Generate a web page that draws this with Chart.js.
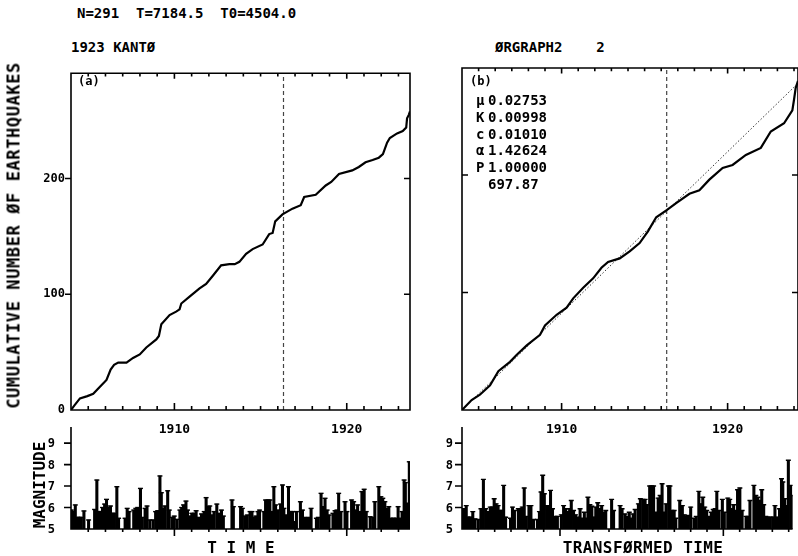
<!DOCTYPE html>
<html lang="en">
<head>
<meta charset="UTF-8">
<title>1923 KANTO</title>
<script src="https://cdn.jsdelivr.net/npm/chart.js"></script>
<style>
  body { margin: 0; background: #fff; }
  #fig { position: relative; width: 798px; height: 556px; overflow: hidden;
         font-family: "DejaVu Sans Mono", monospace; font-weight: bold; color: #000; }
  #fig canvas { position: absolute; }
  .txt { position: absolute; white-space: pre; line-height: 1; }
  .rot { position: absolute; white-space: pre; line-height: 1; text-align: center; transform: rotate(-90deg); }
</style>
</head>
<body>
<div id="fig">
  <canvas id="cumA" width="420" height="380" style="left:0;top:60px"></canvas>
  <canvas id="cumB" width="358" height="380" style="left:440px;top:60px"></canvas>
  <canvas id="magAChart" width="420" height="136" style="left:0;top:420px"></canvas>
  <canvas id="magBChart" width="358" height="136" style="left:440px;top:420px"></canvas>

  <div class="txt" style="left:77px;top:6px;font-size:14px">N=291  T=7184.5  T0=4504.0</div>
  <div class="txt" style="left:71px;top:40px;font-size:14px">1923 KANTØ</div>
  <div class="txt" style="left:495px;top:40px;font-size:14px">ØRGRAPH2    2</div>
  <div class="txt" style="left:78px;top:75px;font-size:12px">(a)</div>
  <div class="txt" style="left:470px;top:75px;font-size:12px">(b)</div>

  <div id="params"></div>

  <div class="rot" style="left:-166px;top:227px;width:360px;height:17px;font-size:17px;letter-spacing:0.6px">CUMULATIVE NUMBER ØF EARTHQUAKES</div>
  <div class="rot" style="left:-10px;top:477px;width:100px;height:16px;font-size:16px">MAGNITUDE</div>
  <div class="txt" style="left:191px;top:540px;width:100px;text-align:center;font-size:16px">T I M E</div>
  <div class="txt" style="left:543px;top:540px;width:200px;text-align:center;font-size:16px;letter-spacing:0.4px">TRANSFØRMED TIME</div>
</div>

<script>
// ---- data ----
const tStart = 1904.0;
const tEndA = 1923.67;      // 1923 Sep 1
const tEndB = 1924.24;      // right edge of transformed time axis
const t0Year = 1916.33;     // T0 = 4504 days
const countMax = 291;

// (a) cumulative number vs time
const cumTimeA = [1904.00, 1904.20, 1904.52, 1904.95, 1905.29, 1905.68, 1906.06, 1906.30, 1906.50, 1906.74,
  1907.22, 1907.60, 1907.99, 1908.37, 1908.95, 1909.10, 1909.24, 1909.72, 1910.10, 1910.30,
  1910.40, 1910.88, 1911.46, 1911.84, 1912.23, 1912.71, 1913.19, 1913.50, 1913.77, 1914.16,
  1914.54, 1915.12, 1915.50, 1915.70, 1915.85, 1916.27, 1916.85, 1917.33, 1917.53, 1918.20,
  1918.78, 1919.10, 1919.55, 1920.32, 1920.70, 1921.09, 1921.50, 1921.86, 1922.10, 1922.34,
  1922.50, 1922.92, 1923.25, 1923.45, 1923.50, 1923.60, 1923.67];
const cumCountA = [0, 4, 10, 12, 14, 20, 26, 35, 39, 41,
  41, 45, 48, 54, 61, 64, 74, 82, 85, 87,
  92, 98, 105, 109, 116, 125, 126, 126, 128, 135,
  139, 143, 152, 153, 163, 169, 174, 177, 184, 186,
  194, 197, 204, 207, 210, 214, 216, 218, 221, 231,
  235, 239, 241, 244, 252, 255, 258];

// (b) cumulative number vs transformed time
const cumTimeB = [1904.00, 1904.58, 1905.08, 1905.69, 1906.19, 1906.89, 1907.30, 1907.90, 1908.70, 1909.00,
  1909.70, 1910.30, 1910.70, 1911.30, 1911.90, 1912.40, 1912.80, 1913.50, 1914.10, 1914.70,
  1915.20, 1915.70, 1916.33, 1916.90, 1917.70, 1918.30, 1918.90, 1919.70, 1920.30, 1921.10,
  1922.00, 1922.60, 1923.40, 1923.90, 1924.00, 1924.10, 1924.24];
const cumCountB = [0, 8.5, 13, 21, 33, 41, 47, 55, 64, 72,
  81, 87, 95, 104, 112, 121, 126, 129, 135, 142,
  152, 164, 170, 176, 184, 187, 196, 206, 208.5, 217,
  223, 237, 244, 255, 264, 274, 280];

// dotted reference line in (b)
const fitTimeB = [1904.0, 1924.24];
const fitCountB = [0, 278];

// tick labels
const yearLabels = [1910, 1920];
const yearMarks = [1905, 1906, 1907, 1908, 1909, 1910, 1911, 1912, 1913, 1914,
  1915, 1916, 1917, 1918, 1919, 1920, 1921, 1922, 1923, 1924];
const countTicks = [0, 100, 200];
const magTicks = [5, 6, 7, 8, 9];

// (a) magnitudes vs time
const magTimeA = [1904.02, 1904.13, 1904.25, 1904.37, 1904.48, 1904.60, 1904.75, 1905.02, 1905.37, 1905.50,
  1905.62, 1905.71, 1905.83, 1905.95, 1906.06, 1906.18, 1906.29, 1906.41, 1906.52, 1906.66,
  1906.76, 1907.14, 1907.26, 1907.37, 1907.64, 1907.76, 1907.87, 1908.03, 1908.14, 1908.30,
  1908.41, 1908.57, 1908.76, 1908.91, 1909.03, 1909.16, 1909.24, 1909.34, 1909.45, 1909.61,
  1909.70, 1909.88, 1909.99, 1910.15, 1910.32, 1910.42, 1910.53, 1910.67, 1910.76, 1910.90,
  1911.01, 1911.15, 1911.26, 1911.40, 1911.57, 1911.73, 1911.84, 1911.94, 1912.05, 1912.17,
  1912.30, 1912.46, 1912.57, 1912.73, 1912.84, 1913.34, 1913.42,
  1913.84, 1913.94, 1914.08, 1914.23, 1914.39, 1914.50, 1914.62, 1914.73, 1914.85, 1914.94,
  1915.19, 1915.29, 1915.43, 1915.54, 1915.64, 1915.77, 1915.87, 1916.00, 1916.16, 1916.27,
  1916.35, 1916.49, 1916.62, 1916.74, 1916.85, 1916.97, 1917.08, 1917.31, 1917.43, 1917.55,
  1917.70, 1917.82, 1917.93, 1918.24, 1918.35, 1918.51, 1918.62, 1918.74, 1918.86, 1918.97,
  1919.20, 1919.32, 1919.43, 1919.53, 1919.66, 1919.90, 1920.01, 1920.28, 1920.40, 1920.51,
  1920.63, 1920.78, 1920.88, 1921.01, 1921.13, 1921.36, 1921.51, 1921.63, 1921.86, 1921.98,
  1922.09, 1922.21, 1922.32, 1922.44, 1922.55, 1922.71, 1922.86, 1922.98, 1923.09, 1923.21,
  1923.33, 1923.40, 1923.52, 1923.63];
const magA = [5.88, 5.81, 6.12, 5.54, 5.54, 5.54, 5.84, 5.42, 5.91, 7.28,
  5.81, 5.81, 6.0, 6.16, 6.38, 6.0, 6.07, 5.73, 5.73, 6.97,
  5.5, 5.5, 5.96, 5.81, 5.88, 5.96, 6.0, 6.89, 5.54, 5.96,
  6.07, 5.42, 5.42, 5.81, 5.85, 7.47, 6.69, 5.96, 6.07, 6.78,
  5.88, 5.54, 5.6, 5.45, 5.88, 6.0, 6.12, 6.3, 5.88, 5.6,
  5.73, 5.73, 5.85, 5.54, 5.7, 5.81, 6.46, 6.04, 6.07, 5.65,
  5.81, 6.16, 5.73, 5.88, 5.6, 6.35, 6.04,
  6.04, 5.96, 5.6, 5.65, 5.81, 5.81, 5.54, 5.6, 5.81, 5.88,
  5.81, 6.35, 6.35, 6.35, 5.81, 6.97, 6.12, 5.88, 6.16, 7.05,
  5.96, 5.65, 6.97, 5.81, 5.81, 5.34, 5.81, 6.27, 5.88, 5.54,
  5.5, 5.54, 5.96, 5.5, 5.54, 6.66, 6.04, 6.43, 5.88, 5.65,
  5.73, 5.85, 5.88, 6.66, 5.81, 6.27, 5.81, 6.35, 6.27, 5.88,
  6.12, 5.81, 6.74, 6.85, 5.81, 5.57, 5.54, 6.27, 6.97, 6.5,
  6.43, 6.27, 5.96, 6.04, 5.5, 5.5, 5.5, 6.04, 5.5, 5.81,
  7.28, 7.16, 6.2, 8.13];

// (b) magnitudes vs transformed time
const magTimeB = [1904.03, 1904.12, 1904.26, 1904.36, 1904.52, 1904.66, 1904.80, 1905.00, 1905.16, 1905.31,
  1905.45, 1905.61, 1905.73, 1905.85, 1905.97, 1906.09, 1906.21, 1906.33, 1906.45, 1906.55,
  1906.67, 1906.97, 1907.09, 1907.21, 1907.45, 1907.57, 1907.69, 1907.81, 1907.94, 1908.10,
  1908.22, 1908.38, 1908.62, 1908.74, 1908.84, 1908.94, 1909.04, 1909.18, 1909.30, 1909.42,
  1909.54, 1909.70, 1909.84, 1910.08, 1910.22, 1910.35, 1910.47, 1910.59, 1910.69, 1910.83,
  1910.95, 1911.09, 1911.23, 1911.35, 1911.49, 1911.59, 1911.71, 1911.83, 1911.95, 1912.07,
  1912.19, 1912.31, 1912.43, 1912.55, 1912.67, 1912.80, 1913.16, 1913.28, 1913.68, 1913.80,
  1913.98, 1914.12, 1914.24, 1914.36, 1914.48, 1914.60, 1914.80, 1914.92, 1915.08, 1915.21,
  1915.33, 1915.49, 1915.61, 1915.73, 1915.89, 1916.01, 1916.13, 1916.25, 1916.37, 1916.49,
  1916.65, 1916.73, 1916.85, 1916.99, 1917.09, 1917.33, 1917.49, 1917.61, 1917.74, 1917.86,
  1918.00, 1918.20, 1918.34, 1918.50, 1918.62, 1918.74, 1918.86, 1918.98, 1919.14, 1919.26,
  1919.38, 1919.50, 1919.60, 1919.74, 1919.94, 1920.06, 1920.27, 1920.39, 1920.51, 1920.63,
  1920.75, 1920.87, 1921.01, 1921.15, 1921.39, 1921.51, 1921.63, 1921.87, 1921.99, 1922.11,
  1922.23, 1922.35, 1922.47, 1922.60, 1922.72, 1922.88, 1923.04, 1923.16, 1923.28, 1923.44,
  1923.56, 1923.64, 1923.76, 1923.86, 1923.98, 1924.12, 1924.22];
const magB = [5.94, 5.94, 6.09, 5.55, 5.55, 5.81, 5.47, 5.44, 5.94, 7.31,
  5.94, 5.81, 6.02, 6.02, 6.41, 6.17, 6.09, 5.86, 5.86, 7.03,
  5.55, 5.5, 6.02, 5.86, 5.94, 5.94, 6.02, 6.91, 5.59, 6.09,
  6.09, 5.44, 5.44, 5.81, 6.72, 7.5, 6.64, 6.09, 6.09, 6.8,
  5.94, 5.59, 5.59, 5.66, 6.09, 5.94, 5.81, 5.94, 6.33, 5.86,
  5.66, 5.55, 5.94, 5.5, 5.78, 5.5, 6.48, 6.13, 6.06, 5.55,
  6.02, 6.22, 5.94, 6.09, 5.78, 5.86, 6.38, 5.86, 6.09, 5.94,
  5.70, 5.59, 5.78, 5.5, 5.7, 5.91, 6.17, 6.41, 6.38, 6.38,
  6.13, 7.0, 7.0, 7.0, 5.78, 6.44, 6.56, 7.11, 5.78, 6.17,
  7.0, 7.0, 5.86, 5.86, 5.5, 6.33, 6.09, 5.66, 5.59, 5.63,
  6.02, 5.5, 5.59, 6.75, 6.17, 6.48, 6.02, 5.86, 5.59, 5.78,
  5.91, 5.94, 6.75, 5.86, 6.38, 5.78, 6.44, 6.38, 5.94, 6.13,
  5.86, 6.83, 6.91, 5.86, 5.59, 5.59, 6.33, 7.03, 6.56, 6.48,
  6.33, 6.83, 6.13, 5.59, 5.55, 5.55, 5.55, 6.09, 5.55, 5.94,
  7.34, 7.19, 6.41, 6.09, 8.2, 7.03, 6.56];

// fitted parameters shown in (b)
const paramNames = ['μ', 'K', 'c', 'α', 'P', ''];
const paramValues = ['0.02753', '0.00998', '0.01010', '1.42624', '1.00000', '697.87'];

// ---- drawing ----
const FONT = '"DejaVu Sans Mono", monospace';
Chart.defaults.color = '#000';
Chart.defaults.font.family = FONT;
Chart.defaults.font.weight = 'bold';

// parameter list
const params = document.getElementById('params');
paramNames.forEach(function (n, i) {
    const top = 93 + i * 16.8;
    params.innerHTML += '<div class="txt" style="left:476px;top:' + top + 'px;font-size:14px">' + n + '</div>'
        + '<div class="txt" style="left:488px;top:' + top + 'px;font-size:14px">' + paramValues[i] + '</div>';
});

function pts(xs, ys) {
    return xs.map((x, i) => ({ x: x, y: ys[i] }));
}

// frame, axes and the small tick marks of the plotter style
const plotterAxes = {
    id: 'plotterAxes',
    afterDraw(chart, args, o) {
        const ctx = chart.ctx, a = chart.chartArea;
        const xs = chart.scales.x, ys = chart.scales.y;
        ctx.save();
        ctx.strokeStyle = '#000';
        ctx.lineWidth = 1.6;
        ctx.beginPath();
        if (o.frame) {
            ctx.rect(a.left, a.top, a.right - a.left, a.bottom - a.top);
        } else {
            ctx.moveTo(a.left, a.top);
            ctx.lineTo(a.left, a.bottom);
            ctx.lineTo(a.right, a.bottom);
        }
        yearMarks.forEach(function (yr) {
            if (yr > xs.max) return;
            const px = xs.getPixelForValue(yr);
            const len = yearLabels.includes(yr) ? o.major : o.minor;
            if (o.frame) {
                ctx.moveTo(px, a.bottom); ctx.lineTo(px, a.bottom - len);
                ctx.moveTo(px, a.top); ctx.lineTo(px, a.top + len * 0.8);
            } else {
                ctx.moveTo(px, a.bottom); ctx.lineTo(px, a.bottom + len);
            }
        });
        o.yVals.forEach(function (v) {
            const py = ys.getPixelForValue(v);
            if (v === ys.min) return;
            if (o.left === 'out') { ctx.moveTo(a.left - o.yLen, py); ctx.lineTo(a.left, py); }
            if (o.left === 'in') { ctx.moveTo(a.left, py); ctx.lineTo(a.left + o.yLen, py); }
            if (o.right === 'in') { ctx.moveTo(a.right, py); ctx.lineTo(a.right - o.yLen, py); }
        });
        ctx.stroke();
        // magnitude labels placed next to the axis
        if (o.labelGap) {
            ctx.fillStyle = '#000';
            ctx.font = 'bold 12px ' + FONT;
            ctx.textAlign = 'right';
            ctx.textBaseline = 'middle';
            o.yVals.forEach(function (v) {
                ctx.fillText(String(v), a.left - o.labelGap, ys.getPixelForValue(v) + 1);
            });
        }
        ctx.restore();
    }
};

function cumChart(id, times, counts, xMax, showY, leftDir, extra) {
    const datasets = [
        { data: pts(times, counts), borderColor: '#000', borderWidth: 2.2, pointRadius: 0, tension: 0 },
        { data: pts([t0Year, t0Year], [0, countMax]), borderColor: '#444', borderWidth: 1.2,
          borderDash: [4, 3], pointRadius: 0 }
    ].concat(extra || []);
    return new Chart(document.getElementById(id), {
        type: 'line',
        data: { datasets: datasets },
        plugins: [plotterAxes],
        options: {
            responsive: false,
            animation: false,
            layout: { padding: { top: 8, right: showY ? 10 : 0, left: 0, bottom: 0 } },
            plugins: {
                legend: { display: false },
                tooltip: { enabled: false },
                plotterAxes: { frame: true, major: 7, minor: 4, yVals: countTicks, yLen: 6, left: leftDir, right: 'in' }
            },
            scales: {
                x: {
                    type: 'linear', min: tStart, max: xMax,
                    afterBuildTicks: s => { s.ticks = yearLabels.map(v => ({ value: v })); },
                    afterFit: s => { s.height = 30; },
                    grid: { display: false, drawTicks: false },
                    border: { display: false },
                    ticks: { padding: 12, font: { size: 13 }, callback: v => String(v), maxRotation: 0 }
                },
                y: {
                    min: 0, max: countMax,
                    afterBuildTicks: s => { s.ticks = countTicks.map(v => ({ value: v })); },
                    afterFit: s => { s.width = showY ? 71 : 22; },
                    grid: { display: false, drawTicks: false },
                    border: { display: false },
                    ticks: { display: showY, padding: 6, font: { size: 12 }, callback: v => String(v) }
                }
            }
        }
    });
}

function magChart(id, times, mags, xMax, yWidth, rightPad, labelGap) {
    return new Chart(document.getElementById(id), {
        type: 'bar',
        data: {
            datasets: [
                { data: times.map((t, i) => ({ x: t, y: [5, mags[i]] })), backgroundColor: '#000',
                  barThickness: 2.4, borderWidth: 0 },
                { type: 'scatter', data: pts(times, mags), pointStyle: 'line', pointRadius: 2.5,
                  borderColor: '#000', borderWidth: 1.4 }
            ]
        },
        plugins: [plotterAxes],
        options: {
            responsive: false,
            animation: false,
            layout: { padding: { top: 7, right: rightPad, left: 0, bottom: 0 } },
            plugins: {
                legend: { display: false },
                tooltip: { enabled: false },
                plotterAxes: { frame: false, major: 7, minor: 3, yVals: magTicks, yLen: 7, left: 'out', labelGap: labelGap }
            },
            scales: {
                x: {
                    type: 'linear', min: tStart, max: xMax, offset: false,
                    afterBuildTicks: s => { s.ticks = yearLabels.map(v => ({ value: v })); },
                    afterFit: s => { s.height = 27; },
                    grid: { display: false, drawTicks: false },
                    border: { display: false },
                    ticks: { display: false }
                },
                y: {
                    min: 5, max: 9.75,
                    afterBuildTicks: s => { s.ticks = magTicks.map(v => ({ value: v })); },
                    afterFit: s => { s.width = yWidth; },
                    grid: { display: false, drawTicks: false },
                    border: { display: false },
                    ticks: { display: false }
                }
            }
        }
    });
}

cumChart('cumA', cumTimeA, cumCountA, tEndA, true, 'out');
cumChart('cumB', cumTimeB, cumCountB, tEndB, false, 'in', [
    { data: pts(fitTimeB, fitCountB), borderColor: '#333', borderWidth: 1, borderDash: [1.5, 2], pointRadius: 0 }
]);
magChart('magAChart', magTimeA, magA, tEndA, 71, 10, 16);
magChart('magBChart', magTimeB, magB, tEndB, 22, 0, 9);
</script>
</body>
</html>
